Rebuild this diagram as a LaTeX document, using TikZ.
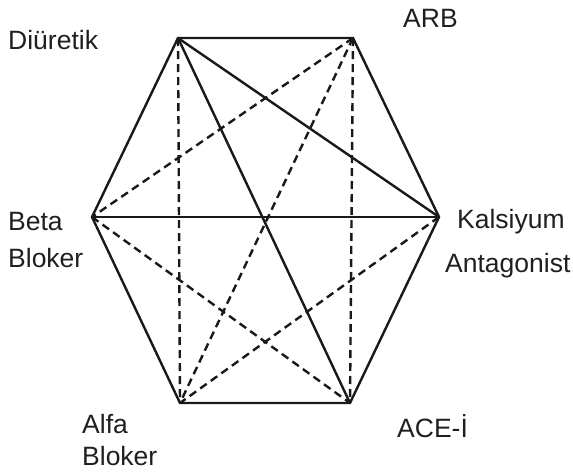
\documentclass[tikz,border=0pt]{standalone}
\usepackage{fontspec}
\setmainfont{Liberation Sans}
\begin{document}
\begin{tikzpicture}[x=1pt,y=-1pt,
  edge/.style={line width=2.4pt,black!90},
  dashedge/.style={line width=2.4pt,black!90,dash pattern=on 8pt off 5pt},
  lbl/.style={anchor=base west,inner sep=0pt,font=\fontsize{26.5}{30}\selectfont,text=black!88}]
\useasboundingbox (0,0) rectangle (573,475);

% hexagon corners
\coordinate (diu) at (178,38);
\coordinate (arb) at (353,38);
\coordinate (kal) at (439,217);
\coordinate (ace) at (350,403);
\coordinate (alf) at (180,403);
\coordinate (bet) at (92,217);

% labels
\node[lbl] (tdiu) at (8,49) {Diüretik};
\node[lbl] (tarb) at (403,27) {ARB};
\node[lbl] (tkal1) at (457,228) {Kalsiyum};
\node[lbl] (tkal2) at (445,272) {Antagonist};
\node[lbl] (tbet1) at (8,230) {Beta};
\node[lbl] (tbet2) at (8,267) {Bloker};
\node[lbl] (talf1) at (82,433) {Alfa};
\node[lbl] (talf2) at (82,465) {Bloker};
\node[lbl] (tace) at (397,437) {ACE-İ};

% dashed diagonals
\draw[dashedge] (diu) -- (alf);
\draw[dashedge] (arb) -- (ace);
\draw[dashedge] (arb) -- (bet);
\draw[dashedge] (arb) -- (alf);
\draw[dashedge] (kal) -- (alf);
\draw[dashedge] (bet) -- (ace);

% solid diagonals
\draw[edge] (diu) -- (kal);
\draw[edge] (diu) -- (ace);
\draw[edge] (bet) -- (kal);

% hexagon outline
\draw[edge,line join=miter] (diu) -- (arb) -- (kal) -- (ace) -- (alf) -- (bet) -- cycle;
\end{tikzpicture}
\end{document}
